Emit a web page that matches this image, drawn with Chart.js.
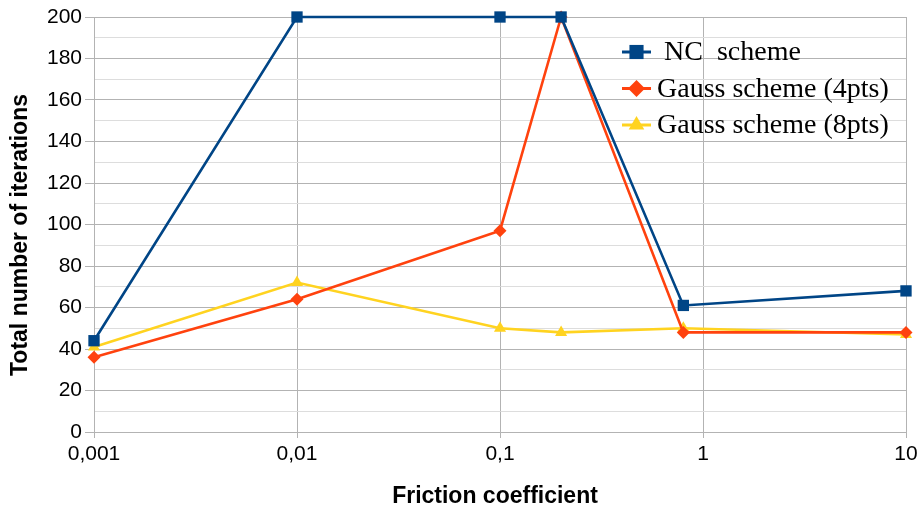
<!DOCTYPE html>
<html>
  <head>
    <title>Iterations vs friction</title>
    <meta charset="UTF-8">
    <style type="text/css">
      body { margin: 0; background: #fff; }
      canvas { display: block; }
    </style>
    <script src="https://cdn.jsdelivr.net/npm/chart.js@4/dist/chart.umd.min.js"></script>
  </head>
  <body>
    <canvas id="chart" width="922" height="508"></canvas>
    <script type="text/javascript">
      // Data
      const friction = [0.001, 0.01, 0.1, 0.2, 0.8, 10];
      const ncScheme = [44, 200, 200, 200, 61, 68];
      const gauss4 = [36, 64, 97, 200, 48, 48];
      const gauss8 = [41, 72, 50, 48, 50, 47];
      const seriesNames = [" NC  scheme", "Gauss scheme (4pts)", "Gauss scheme (8pts)"];
      const xTicks = [0.001, 0.01, 0.1, 1, 10];
      const xTitle = 'Friction coefficient';
      const yTitle = 'Total number of iterations';

      const pts = ys => friction.map((x, i) => ({x: x, y: ys[i]}));

      const blue = '#004586', orange = '#ff420e', yellow = '#ffd320';
      const major = '#b3b3b3', minor = '#dddddd';

      // Legend drawn inside the plot area, top right
      const boxLegend = {
        id: 'boxLegend',
        afterDraw(chart) {
          const ctx = chart.ctx;
          const sizes = [10, 8.5, 9];
          ctx.save();
          chart.data.datasets.forEach((ds, i) => {
            const y = 52 + i * 36.5;
            ctx.strokeStyle = ds.borderColor;
            ctx.lineWidth = 3;
            ctx.beginPath();
            ctx.moveTo(622, y);
            ctx.lineTo(651, y);
            ctx.stroke();
            ctx.fillStyle = ds.borderColor;
            Chart.helpers.drawPoint(ctx, {
              pointStyle: ds.pointStyle, radius: sizes[i], rotation: 0, borderWidth: 0
            }, 636.5, y);
            ctx.fillStyle = '#000';
            ctx.font = '28px "Liberation Serif"';
            ctx.textAlign = 'left';
            ctx.textBaseline = 'middle';
            ctx.fillText(ds.label, 657, y + 1);
          });
          ctx.restore();
        }
      };

      // axis titles, placed by hand (the original isn't centred on the plot)
      const axisTitles = {
        id: 'axisTitles',
        afterDraw(chart) {
          const ctx = chart.ctx;
          ctx.save();
          ctx.fillStyle = '#000';
          ctx.font = 'bold 23px "Liberation Sans"';
          ctx.textAlign = 'center';
          ctx.textBaseline = 'middle';
          ctx.fillText(xTitle, 495, 497);
          ctx.translate(21, 235);
          ctx.rotate(-Math.PI / 2);
          ctx.fillText(yTitle, 0, 0);
          ctx.restore();
        }
      };

      const mkSet = (label, ys, colour, style, r) => ({
        label: label,
        data: pts(ys),
        borderColor: colour,
        backgroundColor: colour,
        borderWidth: 2.6,
        pointStyle: style,
        pointRadius: r,
        pointBorderWidth: 0,
        pointBackgroundColor: colour,
        tension: 0,
        clip: false
      });

      new Chart(document.getElementById('chart'), {
        type: 'line',
        data: {
          datasets: [
            mkSet(seriesNames[0], ncScheme, blue, 'rect', 8),
            mkSet(seriesNames[1], gauss4, orange, 'rectRot', 6.5),
            mkSet(seriesNames[2], gauss8, yellow, 'triangle', 7)
          ]
        },
        plugins: [boxLegend, axisTitles],
        options: {
          responsive: false,
          animation: false,
          layout: { padding: { top: 17, right: 16, left: 0, bottom: 0 } },
          plugins: {
            legend: { display: false },
            tooltip: { enabled: false }
          },
          scales: {
            x: {
              type: 'logarithmic',
              min: 0.001,
              max: 10,
              afterBuildTicks: s => { s.ticks = xTicks.map(v => ({value: v})); },
              afterFit: s => { s.height = 76; },
              ticks: {
                autoSkip: false,
                maxRotation: 0,
                padding: 4,
                color: '#000',
                font: { family: '"Liberation Sans"', size: 21 },
                callback: v => String(v).replace('.', ',')
              },
              grid: { color: major, tickColor: major, tickLength: 6, lineWidth: 1 },
              border: { color: major }
            },
            y: {
              min: 0,
              max: 200,
              afterFit: s => { s.width = 94; },
              ticks: {
                stepSize: 10,
                autoSkip: false,
                padding: 3,
                color: '#000',
                font: { family: '"Liberation Sans"', size: 21 },
                callback: v => (v % 20 === 0 ? String(v) : '')
              },
              grid: {
                color: c => (c.tick && c.tick.value % 20 !== 0 ? minor : major),
                tickColor: c => (c.tick && c.tick.value % 20 !== 0 ? 'rgba(0,0,0,0)' : major),
                tickLength: 9,
                lineWidth: 1
              },
              border: { color: major }
            }
          }
        }
      });
    </script>
  </body>
</html>
